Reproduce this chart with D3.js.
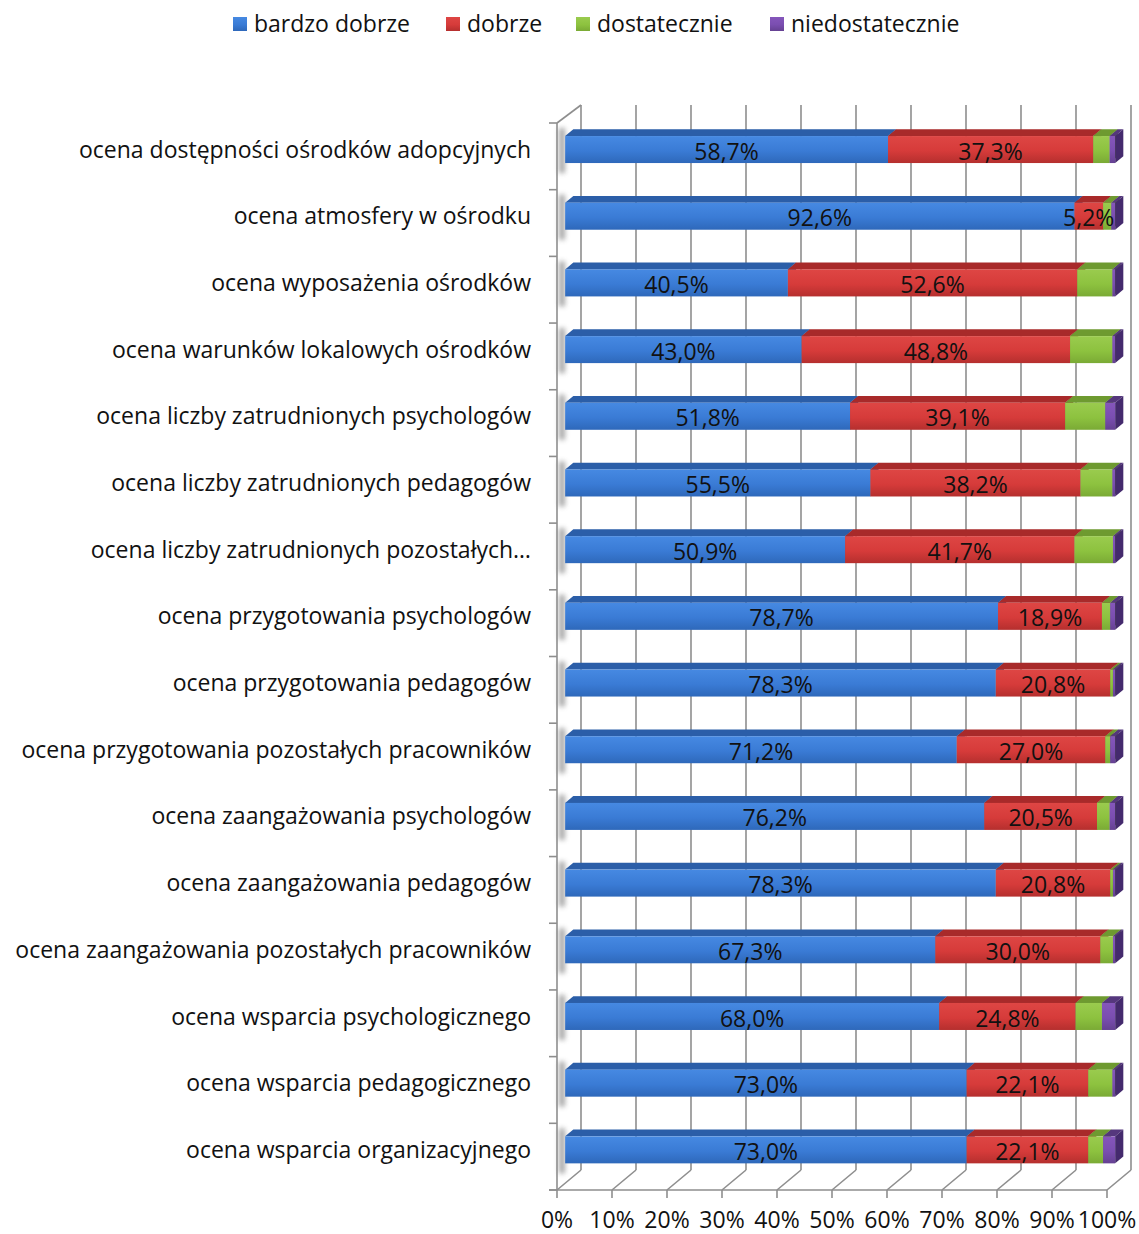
<!DOCTYPE html>
<html lang="pl">
<head>
    <meta charset="UTF-8">
    <title>Ocena ośrodków adopcyjnych</title>
    <script src="https://d3js.org/d3.v7.min.js"></script>
    <style>
        body { margin: 0; background: #fff; }
        text { font-family: "Open Sans", sans-serif; fill: #111; }
    </style>
</head>
<body>
    <svg width="1139" height="1234"></svg>

    <script>
        // dane
        const categories = [
            "ocena dostępności ośrodków adopcyjnych",
            "ocena atmosfery w ośrodku",
            "ocena wyposażenia ośrodków",
            "ocena warunków lokalowych ośrodków",
            "ocena liczby zatrudnionych psychologów",
            "ocena liczby zatrudnionych pedagogów",
            "ocena liczby zatrudnionych pozostałych…",
            "ocena przygotowania psychologów",
            "ocena przygotowania pedagogów",
            "ocena przygotowania pozostałych pracowników",
            "ocena zaangażowania psychologów",
            "ocena zaangażowania pedagogów",
            "ocena zaangażowania pozostałych pracowników",
            "ocena wsparcia psychologicznego",
            "ocena wsparcia pedagogicznego",
            "ocena wsparcia organizacyjnego"
        ];
        const seriesNames = ["bardzo dobrze", "dobrze", "dostatecznie", "niedostatecznie"];
        const bardzoDobrze    = [58.7, 92.6, 40.5, 43.0, 51.8, 55.5, 50.9, 78.7, 78.3, 71.2, 76.2, 78.3, 67.3, 68.0, 73.0, 73.0];
        const dobrze          = [37.3, 5.2, 52.6, 48.8, 39.1, 38.2, 41.7, 18.9, 20.8, 27.0, 20.5, 20.8, 30.0, 24.8, 22.1, 22.1];
        const dostatecznie    = [3.0, 1.5, 6.4, 7.7, 7.3, 5.8, 7.0, 1.5, 0.5, 0.9, 2.3, 0.5, 2.3, 4.8, 4.4, 2.7];
        const niedostatecznie = [1.0, 0.7, 0.5, 0.5, 1.8, 0.5, 0.4, 0.9, 0.4, 0.9, 1.0, 0.4, 0.4, 2.4, 0.5, 2.2];
        const xTicks = [0, 10, 20, 30, 40, 50, 60, 70, 80, 90, 100];

        const seriesValues = [bardzoDobrze, dobrze, dostatecznie, niedostatecznie];

        // kolory: front (jasny, bazowy, ciemny), góra, bok
        const colors = [
            { light: "#4689e2", base: "#3a7bd5", dark: "#2e68ba", top: "#2b5ea8", side: "#244f8e" },
            { light: "#de4644", base: "#d63b3a", dark: "#b52f2e", top: "#a82a2a", side: "#8c2222" },
            { light: "#9acb4e", base: "#8dc23f", dark: "#7aaa35", top: "#6e9a30", side: "#5e8428" },
            { light: "#8556bb", base: "#7a4eb0", dark: "#654192", top: "#55377d", side: "#442a6d" }
        ];

        const svg = d3.select("svg");

        // rzut 3D: przesunięcie w głąb
        const depthX = 24, depthY = -20;
        const barT0 = 0.34, barT1 = 0.68;

        const x = d3.scaleLinear().domain([0, 100]).range([557, 1107]);
        const y = d3.scaleBand().domain(categories).range([123, 1190]).padding(0);
        const barH = 27;

        const gridColor = "#8e8e8e";

        const defs = svg.append("defs");
        colors.forEach((c, i) => {
            const g = defs.append("linearGradient")
                .attr("id", "grad" + i)
                .attr("x1", 0).attr("y1", 0).attr("x2", 0).attr("y2", 1);
            g.append("stop").attr("offset", "0%").attr("stop-color", c.light);
            g.append("stop").attr("offset", "55%").attr("stop-color", c.base);
            g.append("stop").attr("offset", "100%").attr("stop-color", c.dark);
        });
        defs.append("filter").attr("id", "blur")
            .attr("x", "-100%").attr("y", "-50%").attr("width", "300%").attr("height", "200%")
            .append("feGaussianBlur").attr("stdDeviation", 2.5);

        // ściany i siatka
        const grid = svg.append("g")
            .attr("fill", "none")
            .attr("stroke", gridColor)
            .attr("stroke-width", 1.6);

        const backTop = 105, floorY = 1190;

        // linie pionowe na tylnej ścianie
        grid.selectAll(".vgrid")
            .data(xTicks)
            .enter()
            .append("line")
            .attr("x1", d => x(d) + depthX)
            .attr("x2", d => x(d) + depthX)
            .attr("y1", backTop)
            .attr("y2", floorY + depthY);

        // linie na podłodze
        grid.selectAll(".fgrid")
            .data(xTicks)
            .enter()
            .append("line")
            .attr("x1", d => x(d))
            .attr("x2", d => x(d) + depthX)
            .attr("y1", floorY)
            .attr("y2", floorY + depthY);

        // przednia krawędź podłogi + znaczniki
        grid.append("line")
            .attr("x1", 549).attr("x2", x(100))
            .attr("y1", floorY).attr("y2", floorY);
        grid.selectAll(".xtick")
            .data(xTicks)
            .enter()
            .append("line")
            .attr("x1", d => x(d)).attr("x2", d => x(d))
            .attr("y1", floorY).attr("y2", floorY + 8);

        // lewa ściana
        const topY = y(categories[0]);
        grid.append("line")
            .attr("x1", x(0)).attr("x2", x(0))
            .attr("y1", topY).attr("y2", floorY);
        grid.append("line")
            .attr("x1", x(0)).attr("x2", x(0) + depthX)
            .attr("y1", topY).attr("y2", topY + depthY + 2);
        const bounds = categories.map(c => y(c)).concat([floorY]);
        grid.selectAll(".ytick")
            .data(bounds)
            .enter()
            .append("line")
            .attr("x1", x(0) - 8).attr("x2", x(0))
            .attr("y1", d => d).attr("y2", d => d);

        // cienie słupków na lewej ścianie
        svg.append("g").selectAll("rect")
            .data(categories)
            .enter()
            .append("rect")
            .attr("x", x(0) + 2)
            .attr("width", 6)
            .attr("y", d => y(d) + y.bandwidth() / 2 - barH / 2 + depthY * barT0 - 8)
            .attr("height", barH + 18)
            .attr("fill", "#8a8a8a")
            .attr("opacity", 0.75)
            .attr("filter", "url(#blur)");

        // słupki 3D
        const rows = categories.map((c, i) => {
            let acc = 0;
            return seriesValues.map((vals, s) => {
                const seg = { cat: c, s: s, v: vals[i], x0: acc, x1: acc + vals[i] };
                acc += vals[i];
                return seg;
            });
        });

        const ox = depthX * barT0, oy = depthY * barT0;
        const dx = depthX * (barT1 - barT0), dy = depthY * (barT1 - barT0);

        const barG = svg.append("g");
        rows.forEach(segs => {
            segs.forEach(d => {
                const fx0 = x(d.x0) + ox, fx1 = x(d.x1) + ox;
                const fy0 = y(d.cat) + y.bandwidth() / 2 - barH / 2 + oy;
                const fy1 = fy0 + barH;
                const c = colors[d.s];
                // góra
                barG.append("path")
                    .attr("d", `M${fx0},${fy0}L${fx1},${fy0}L${fx1 + dx},${fy0 + dy}L${fx0 + dx},${fy0 + dy}Z`)
                    .attr("fill", c.top);
                // przód
                barG.append("rect")
                    .attr("x", fx0).attr("y", fy0)
                    .attr("width", Math.max(0, fx1 - fx0))
                    .attr("height", barH)
                    .attr("fill", `url(#grad${d.s})`);
                // bok
                barG.append("path")
                    .attr("d", `M${fx1},${fy0}L${fx1 + dx},${fy0 + dy}L${fx1 + dx},${fy1 + dy}L${fx1},${fy1}Z`)
                    .attr("fill", c.side);
            });
        });

        // etykiety wartości (tylko dwie pierwsze serie)
        const labelSegs = rows.flatMap(segs => segs.filter(d => d.s < 2));
        svg.append("g").selectAll("text")
            .data(labelSegs)
            .enter()
            .append("text")
            .attr("x", d => (x(d.x0) + x(d.x1)) / 2 + ox)
            .attr("y", d => y(d.cat) + y.bandwidth() / 2 + oy + 2)
            .attr("dy", "0.35em")
            .attr("text-anchor", "middle")
            .style("font-size", "23px")
            .text(d => d.v.toFixed(1).replace(".", ",") + "%");

        // etykiety kategorii
        svg.append("g").selectAll("text")
            .data(categories)
            .enter()
            .append("text")
            .attr("x", 531)
            .attr("y", d => y(d) + y.bandwidth() / 2 + oy)
            .attr("dy", "0.35em")
            .attr("text-anchor", "end")
            .style("font-size", "23px")
            .text(d => d);

        // etykiety osi X
        svg.append("g").selectAll("text")
            .data(xTicks)
            .enter()
            .append("text")
            .attr("x", d => x(d))
            .attr("y", 1228)
            .attr("text-anchor", "middle")
            .style("font-size", "23px")
            .text(d => d + "%");

        // legenda
        const legendX = [233, 446, 576, 770];
        const legend = svg.append("g").selectAll("g")
            .data(seriesNames)
            .enter()
            .append("g")
            .attr("transform", (d, i) => `translate(${legendX[i]},24)`);
        legend.append("rect")
            .attr("x", 0).attr("y", -7)
            .attr("width", 14).attr("height", 14)
            .attr("fill", (d, i) => `url(#grad${i})`);
        legend.append("text")
            .attr("x", 21)
            .attr("dy", "0.35em")
            .style("font-size", "23px")
            .text(d => d);
    </script>
</body>
</html>
